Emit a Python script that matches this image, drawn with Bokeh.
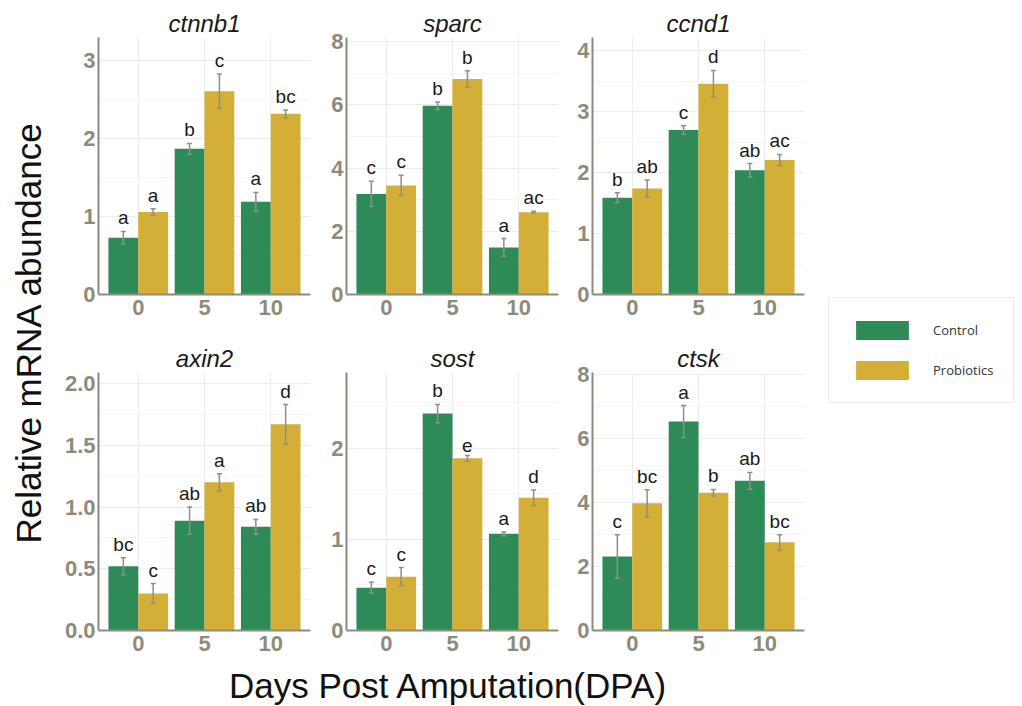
import math
from bokeh.plotting import figure
from bokeh.models import (ColumnDataSource, FactorRange, Range1d, SingleIntervalTicker,
                          Label, Legend, LegendItem, PrintfTickFormatter)
from bokeh.transform import dodge
from bokeh.core.properties import value
from bokeh.layouts import row, column
from bokeh.embed import file_html
from bokeh.resources import INLINE

# ---------------- data ----------------
days = ["0", "5", "10"]
groups = ["Control", "Probiotics"]
genes = ["ctnnb1", "sparc", "ccnd1", "axin2", "sost", "ctsk"]

ctnnb1_control = [0.73, 1.87, 1.19]
ctnnb1_control_se = [0.08, 0.07, 0.12]
ctnnb1_probiotics = [1.06, 2.61, 2.32]
ctnnb1_probiotics_se = [0.04, 0.22, 0.05]
ctnnb1_control_letters = ["a", "b", "a"]
ctnnb1_probiotics_letters = ["a", "c", "bc"]

sparc_control = [3.18, 5.97, 1.49]
sparc_control_se = [0.40, 0.12, 0.28]
sparc_probiotics = [3.45, 6.82, 2.60]
sparc_probiotics_se = [0.32, 0.26, 0.03]
sparc_control_letters = ["c", "b", "a"]
sparc_probiotics_letters = ["c", "b", "ac"]

ccnd1_control = [1.59, 2.70, 2.04]
ccnd1_control_se = [0.08, 0.07, 0.11]
ccnd1_probiotics = [1.74, 3.46, 2.21]
ccnd1_probiotics_se = [0.14, 0.22, 0.09]
ccnd1_control_letters = ["b", "c", "ab"]
ccnd1_probiotics_letters = ["ab", "d", "ac"]

axin2_control = [0.52, 0.89, 0.84]
axin2_control_se = [0.07, 0.11, 0.06]
axin2_probiotics = [0.30, 1.20, 1.67]
axin2_probiotics_se = [0.08, 0.07, 0.16]
axin2_control_letters = ["bc", "ab", "ab"]
axin2_probiotics_letters = ["c", "a", "d"]

sost_control = [0.47, 2.38, 1.06]
sost_control_se = [0.06, 0.10, 0.02]
sost_probiotics = [0.59, 1.89, 1.455]
sost_probiotics_se = [0.10, 0.03, 0.085]
sost_control_letters = ["c", "b", "a"]
sost_probiotics_letters = ["c", "e", "d"]

ctsk_control = [2.31, 6.52, 4.67]
ctsk_control_se = [0.68, 0.50, 0.26]
ctsk_probiotics = [3.97, 4.30, 2.75]
ctsk_probiotics_se = [0.42, 0.10, 0.24]
ctsk_control_letters = ["c", "a", "ab"]
ctsk_probiotics_letters = ["bc", "b", "bc"]

y_max = [3.3, 8.13, 4.22, 2.09, 2.83, 8.05]
y_tick_interval = [1, 2, 1, 0.5, 1, 2]
y_tick_format = ["%d", "%d", "%d", "%.1f", "%d", "%d"]

# legend proxy (zero-height bars only used for the legend swatches)
legend_proxy_top = [0, 0]

# ---------------- style ----------------
GREEN = "#2e8b57"
GOLD = "#d4af37"
TICK = "#8e8b7b"
ERR = "#8f8f87"
GRID = "#ececec"
MINOR = "#f4f4f4"
FONT = "Liberation Sans"

panel_data = {
    "ctnnb1": (ctnnb1_control, ctnnb1_control_se, ctnnb1_probiotics, ctnnb1_probiotics_se,
               ctnnb1_control_letters, ctnnb1_probiotics_letters),
    "sparc": (sparc_control, sparc_control_se, sparc_probiotics, sparc_probiotics_se,
              sparc_control_letters, sparc_probiotics_letters),
    "ccnd1": (ccnd1_control, ccnd1_control_se, ccnd1_probiotics, ccnd1_probiotics_se,
              ccnd1_control_letters, ccnd1_probiotics_letters),
    "axin2": (axin2_control, axin2_control_se, axin2_probiotics, axin2_probiotics_se,
              axin2_control_letters, axin2_probiotics_letters),
    "sost": (sost_control, sost_control_se, sost_probiotics, sost_probiotics_se,
             sost_control_letters, sost_probiotics_letters),
    "ctsk": (ctsk_control, ctsk_control_se, ctsk_probiotics, ctsk_probiotics_se,
             ctsk_control_letters, ctsk_probiotics_letters),
}

# borders (left, right) per column; (top, frame_h, bottom) per row
col_borders = [(38, 18), (17, 16), (17, 18)]
row_geom = [(37, 257, 41), (37, 258, 35)]


def make_panel(idx, gene):
    c, cse, pr, pse, cl, pl = panel_data[gene]
    r, col = divmod(idx, 3)
    top, fh, bottom = row_geom[r]
    left, right = col_borders[col]
    src = ColumnDataSource(dict(
        day=days, ctrl=c, prob=pr,
        ctrl_hi=[v + e for v, e in zip(c, cse)], ctrl_lo=[v - e for v, e in zip(c, cse)],
        prob_hi=[v + e for v, e in zip(pr, pse)], prob_lo=[v - e for v, e in zip(pr, pse)],
        ctrl_let=cl, prob_let=pl))
    p = figure(x_range=FactorRange(factors=days, range_padding=0.1, range_padding_units="absolute"),
               y_range=Range1d(0, y_max[idx]),
               frame_width=212, frame_height=fh,
               min_border_left=left, min_border_right=right,
               min_border_top=top, min_border_bottom=bottom,
               output_backend="svg", toolbar_location=None, title=gene)
    p.title.text_font = FONT
    p.title.text_font_style = "italic"
    p.title.text_font_size = "24px"
    p.title.text_color = "#1a1a1a"
    p.title.align = "center"
    p.title.standoff = 2
    p.outline_line_color = None
    p.background_fill_color = "white"
    p.border_fill_color = "white"

    for off, key, color in [(-0.225, "ctrl", GREEN), (0.225, "prob", GOLD)]:
        xs = dodge("day", off, range=p.x_range)
        p.vbar(x=xs, top=key, width=0.45, source=src, fill_color=color, line_color=None)
        p.segment(x0=xs, y0=key + "_lo", x1=xs, y1=key + "_hi", source=src,
                  line_color=ERR, line_width=1.5)
        p.scatter(x=xs, y=key + "_hi", marker="dash", size=5, source=src, line_color=ERR, line_width=1.5)
        p.scatter(x=xs, y=key + "_lo", marker="dash", size=5, source=src, line_color=ERR, line_width=1.5)
        p.text(x=xs, y=key + "_hi", text=key + "_let", source=src, text_align="center",
               text_baseline="bottom", y_offset=-3, text_font=value(FONT),
               text_font_size="19px", text_color="#1a1a1a")

    p.yaxis.ticker = SingleIntervalTicker(interval=y_tick_interval[idx], num_minor_ticks=2)
    p.yaxis.formatter = PrintfTickFormatter(format=y_tick_format[idx])
    for ax in (p.xaxis, p.yaxis):
        ax.major_label_text_font = FONT
        ax.major_label_text_font_size = "22px"
        ax.major_label_text_font_style = "bold"
        ax.major_label_text_color = TICK
        ax.major_tick_line_color = None
        ax.minor_tick_line_color = None
        ax.major_tick_out = 0
        ax.major_tick_in = 0
        ax.minor_tick_out = 0
        ax.minor_tick_in = 0
        ax.axis_line_color = TICK
        ax.axis_line_width = 2
    p.yaxis.major_label_standoff = 3
    p.xaxis.major_label_standoff = 5
    p.xgrid.grid_line_color = GRID
    p.ygrid.grid_line_color = GRID
    p.ygrid.minor_grid_line_color = MINOR
    return p


panels = [make_panel(i, g) for i, g in enumerate(genes)]


def blank(width, height):
    f = figure(width=width, height=height, output_backend="svg", toolbar_location=None,
               x_range=Range1d(0, 1), y_range=Range1d(0, 1), min_border=0,
               x_axis_type=None, y_axis_type=None)
    f.outline_line_color = None
    f.xgrid.visible = False
    f.ygrid.visible = False
    return f


# x-axis title
xlab = blank(760, 41)
xlab.add_layout(Label(x=388, y=2, x_units="screen", y_units="screen",
                      text="Days Post Amputation(DPA)", text_align="center",
                      text_baseline="bottom", text_font=FONT,
                      text_font_size="35px", text_color="#111111"))

# y-axis title
ylab = blank(60, 706)
ylab.add_layout(Label(x=28, y=374, x_units="screen", y_units="screen",
                      text="Relative mRNA abundance", angle=math.pi / 2,
                      text_align="center", text_baseline="middle", text_font=FONT,
                      text_font_size="35px", text_color="#111111"))

# legend
leg = figure(width=202, height=706, output_backend="svg", toolbar_location=None,
             x_range=FactorRange(factors=groups), y_range=Range1d(0, 1), min_border=0,
             x_axis_type=None, y_axis_type=None)
leg.outline_line_color = None
leg.xgrid.visible = False
leg.ygrid.visible = False
proxy = ColumnDataSource(dict(g=groups, top=legend_proxy_top))
r1 = leg.vbar(x="g", top="top", width=0.5, source=proxy, fill_color=GREEN, line_color=None)
r2 = leg.vbar(x="g", top="top", width=0.5, source=proxy, fill_color=GOLD, line_color=None)
legend = Legend(items=[LegendItem(label=groups[0], renderers=[r1], index=0),
                       LegendItem(label=groups[1], renderers=[r2], index=1)],
                location=(6, 303), orientation="vertical",
                glyph_width=66, glyph_height=24, label_height=24,
                spacing=16, padding=20, margin=0, label_standoff=18,
                label_text_font="Open Sans", label_text_font_size="13px",
                label_text_color="#333333",
                border_line_color="#d9d9d9", border_line_width=1.5,
                background_fill_color="white", background_fill_alpha=1)
leg.add_layout(legend, "center")

grid = column(row(*panels[:3]), row(*panels[3:]), xlab)
layout = row(ylab, grid, leg)

open("out.html", "w").write(file_html(layout, INLINE))
